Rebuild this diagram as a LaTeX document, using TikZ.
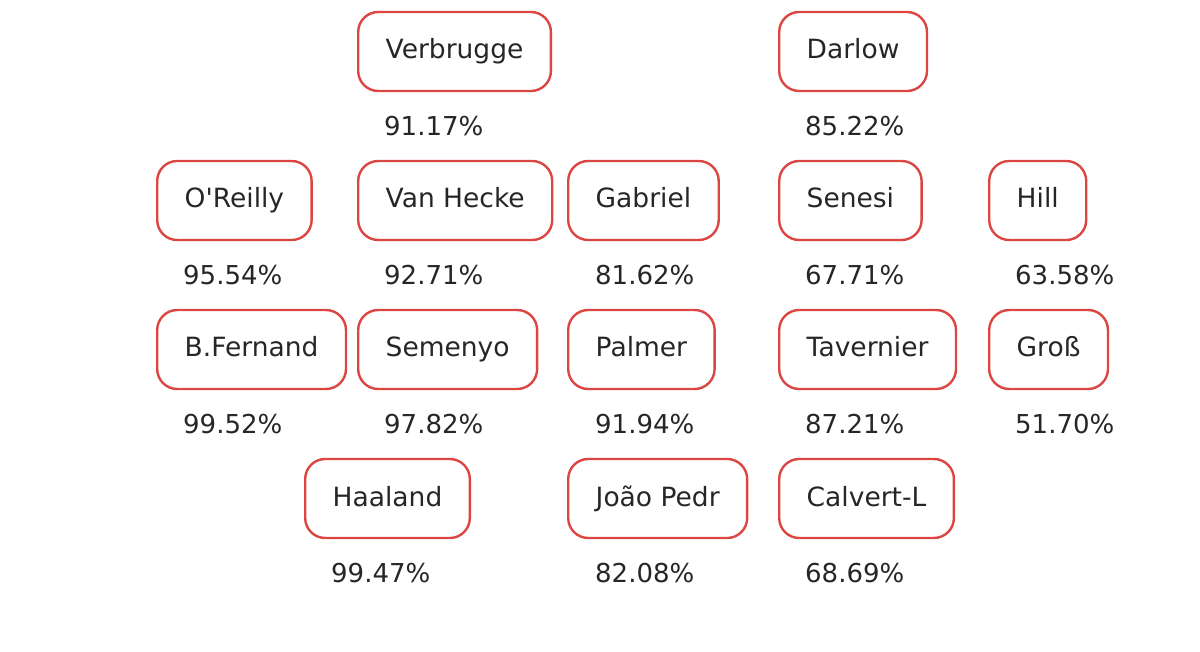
\documentclass[tikz,border=0pt]{standalone}
\usepackage{fontspec}
\setmainfont{DejaVu Sans}
\usepackage{tikz}
\usetikzlibrary{positioning}
\definecolor{boxrot}{RGB}{220,70,66}

\begin{document}
\begin{tikzpicture}[x=1pt, y=-1pt,
        spieler/.style={draw=boxrot, line width=2.4pt, rounded corners=20pt, anchor=west,
            minimum height=79pt, inner xsep=27.5pt, text height=19.5pt, text depth=4.5pt,
            text=black!85, font=\fontsize{26.5}{30}\selectfont},
        quote/.style={anchor=west, inner sep=0pt, text=black!85, font=\fontsize{26}{30}\selectfont}]
            \useasboundingbox (0,0) rectangle (1200,652);   %Rahmen
            % Reihe 1
            \node [spieler] (verb) at (357,51.5) {Verbrugge};
            \node [spieler] (darl) at (778,51.5) {Darlow};
            % Reihe 2
            \node [spieler] (orei) at (156,200.5) {O\textquotesingle Reilly};
            \node [spieler] (vanh) at (357,200.5) {Van Hecke};
            \node [spieler] (gabr) at (567,200.5) {Gabriel};
            \node [spieler] (sene) at (778,200.5) {Senesi};
            \node [spieler] (hill) at (988,200.5) {Hill};
            % Reihe 3
            \node [spieler] (bfer) at (156,349.5) {B.Fernand};
            \node [spieler] (seme) at (357,349.5) {Semenyo};
            \node [spieler] (palm) at (567,349.5) {Palmer};
            \node [spieler] (tave) at (778,349.5) {Tavernier};
            \node [spieler] (gros) at (988,349.5) {Groß};
            % Reihe 4
            \node [spieler] (haal) at (304,498.5) {Haaland};
            \node [spieler] (joao) at (567,498.5) {João Pedr};
            \node [spieler] (calv) at (778,498.5) {Calvert-L};
            % Prozente
            \node [quote] (pverb) at ([shift={(27,33.5)}]verb.south west) {91.17\%};
            \node [quote] (pdarl) at ([shift={(27,33.5)}]darl.south west) {85.22\%};
            \node [quote] (porei) at ([shift={(27,33.5)}]orei.south west) {95.54\%};
            \node [quote] (pvanh) at ([shift={(27,33.5)}]vanh.south west) {92.71\%};
            \node [quote] (pgabr) at ([shift={(28,33.5)}]gabr.south west) {81.62\%};
            \node [quote] (psene) at ([shift={(27,33.5)}]sene.south west) {67.71\%};
            \node [quote] (phill) at ([shift={(27,33.5)}]hill.south west) {63.58\%};
            \node [quote] (pbfer) at ([shift={(27,33.5)}]bfer.south west) {99.52\%};
            \node [quote] (pseme) at ([shift={(27,33.5)}]seme.south west) {97.82\%};
            \node [quote] (ppalm) at ([shift={(28,33.5)}]palm.south west) {91.94\%};
            \node [quote] (ptave) at ([shift={(27,33.5)}]tave.south west) {87.21\%};
            \node [quote] (pgros) at ([shift={(27,33.5)}]gros.south west) {51.70\%};
            \node [quote] (phaal) at ([shift={(27,33.5)}]haal.south west) {99.47\%};
            \node [quote] (pjoao) at ([shift={(28,33.5)}]joao.south west) {82.08\%};
            \node [quote] (pcalv) at ([shift={(27,33.5)}]calv.south west) {68.69\%};
        \end{tikzpicture}
\end{document}
